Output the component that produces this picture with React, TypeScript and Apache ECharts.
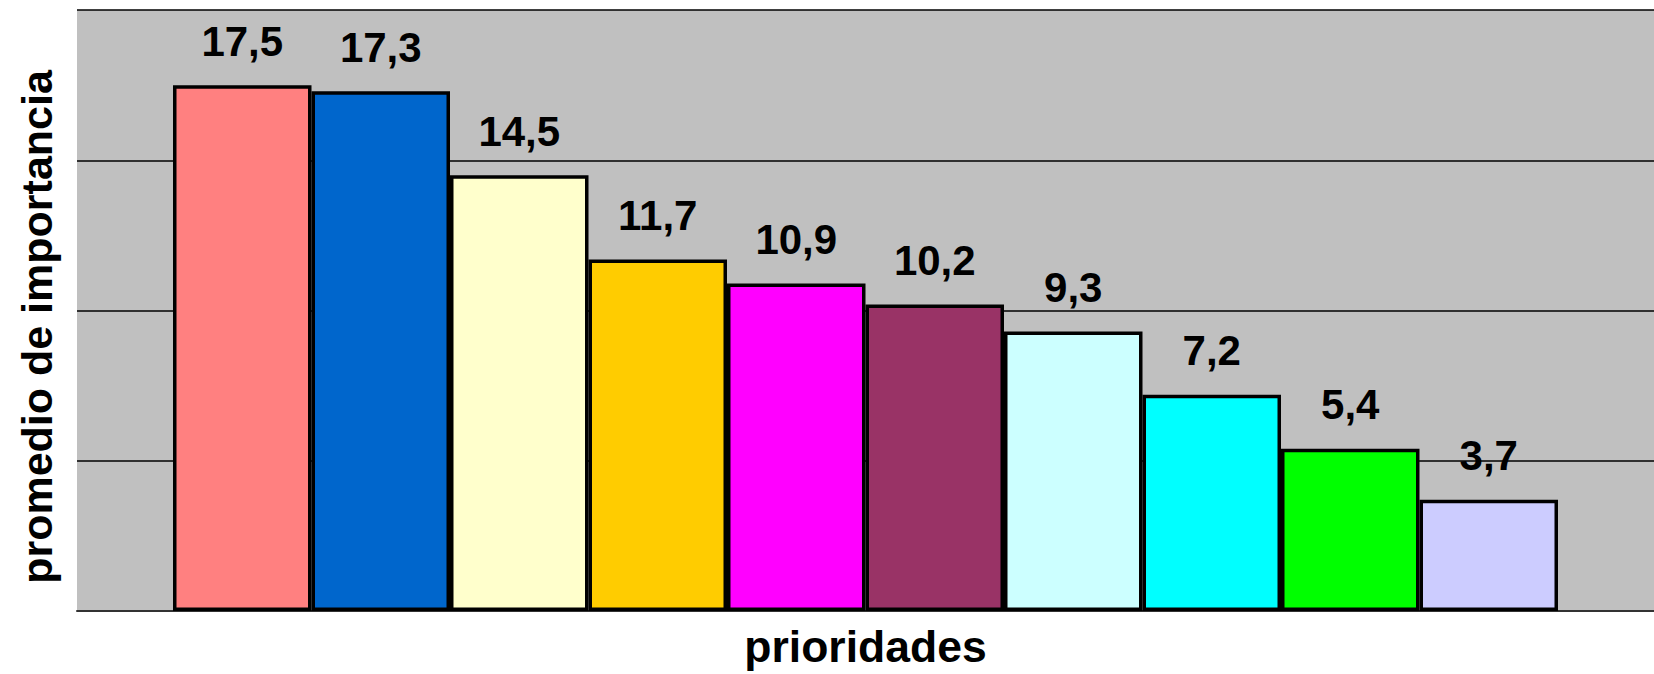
import React, { useEffect, useRef } from "react";
import * as echarts from "echarts";

const categories = [""];
const seriesNames = ["P1", "P2", "P3", "P4", "P5", "P6", "P7", "P8", "P9", "P10"];
const values = [17.5, 17.3, 14.5, 11.7, 10.9, 10.2, 9.3, 7.2, 5.4, 3.7];
const colors = [
  "#FF8080", "#0066CC", "#FFFFCC", "#FFCC00", "#FF00FF",
  "#993366", "#CCFFFF", "#00FFFF", "#00FF00", "#CCCCFF",
];
const yTicks = { min: 0, max: 20, interval: 5 };

const FONT = "'Liberation Sans', Arial, sans-serif";

export default function App() {
  const ref = useRef<HTMLDivElement>(null);
  useEffect(() => {
    if (!ref.current) return;
    const chart = echarts.init(ref.current, undefined, { renderer: "svg" });
    chart.setOption({
      animation: false,
      backgroundColor: "#FFFFFF",
      grid: { left: 77, right: 0, top: 10, bottom: 60, backgroundColor: "#C0C0C0", show: true, borderWidth: 0 },
      xAxis: {
        type: "category",
        data: categories,
        axisTick: { show: false },
        axisLabel: { show: false },
        axisLine: { show: true, lineStyle: { color: "#333", width: 2 } },
        name: "prioridades",
        nameLocation: "middle",
        nameGap: 13,
        nameTextStyle: { fontFamily: FONT, fontWeight: "bold", fontSize: 44.5, color: "#000" },
      },
      yAxis: {
        type: "value",
        min: yTicks.min,
        max: yTicks.max,
        interval: yTicks.interval,
        axisLabel: { show: false },
        axisTick: { show: false },
        axisLine: { show: false },
        splitLine: { show: true, lineStyle: { color: "#000", width: 1.5 } },
      },
      graphic: [
        {
          type: "text",
          x: 37,
          y: 327,
          rotation: Math.PI / 2,
          style: {
            text: "promedio de importancia",
            fontFamily: FONT,
            fontWeight: "bold",
            fontSize: 43,
            fill: "#000",
            textAlign: "center",
            textVerticalAlign: "middle",
          },
        },
      ],
      series: values.map((v, i) => ({
        type: "bar",
        name: seriesNames[i],
        data: [v],
        barWidth: 138.5,
        barGap: "0%",
        itemStyle: { color: colors[i], borderColor: "#000", borderWidth: 3.5 },
        label: {
          show: true,
          position: "top",
          distance: 23,
          fontFamily: FONT,
          fontWeight: "bold",
          fontSize: 42,
          color: "#000",
          formatter: (p: any) => String(p.value).replace(".", ","),
        },
      })),
    });
    return () => chart.dispose();
  }, []);
  return <div ref={ref} style={{ position: "fixed", left: 0, top: 0, width: 1654, height: 674 }} />;
}
